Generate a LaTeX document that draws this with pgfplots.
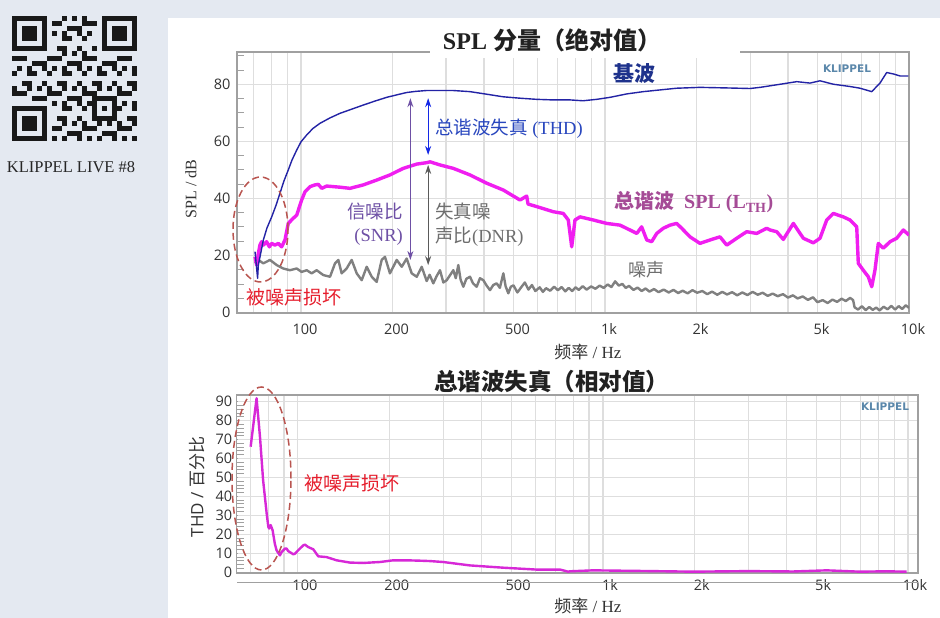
\documentclass[border=0pt]{standalone}
\usepackage{pgfplots}
\pgfplotsset{compat=1.18}
\usetikzlibrary{arrows.meta}
\usepackage{fontspec}
\setmainfont{Liberation Serif}
\newfontfamily\cjk{Noto Sans CJK SC}
\newfontfamily\osans{Open Sans}
\newfontfamily\dejavu{DejaVu Sans}
\definecolor{bgpanel}{RGB}{228,233,241}
\definecolor{gridc}{RGB}{222,222,222}
\definecolor{axisc}{RGB}{160,160,160}
\definecolor{tickc}{RGB}{51,51,51}
\definecolor{fundc}{RGB}{30,50,140}
\definecolor{fundline}{RGB}{35,35,165}
\definecolor{thdc}{RGB}{40,70,190}
\definecolor{thdarrow}{RGB}{20,40,230}
\definecolor{snrc}{RGB}{110,80,165}
\definecolor{dnrc}{RGB}{110,110,110}
\definecolor{dnrarrow}{RGB}{90,90,90}
\definecolor{lthc}{RGB}{165,75,150}
\definecolor{magtop}{RGB}{240,30,240}
\definecolor{magbot}{RGB}{215,40,215}
\definecolor{noisec}{RGB}{128,128,128}
\definecolor{redc}{RGB}{230,30,45}
\definecolor{ellc}{RGB}{185,85,80}
\definecolor{klipc}{RGB}{90,135,170}
\pgfplotsset{
  klaxis/.style={
    scale only axis, anchor=south west,
    xtick={100,200,500,1000,2000,5000,10000},
    xticklabels={100,200,500,1k,2k,5k,10k},
    minor xtick={70,80,90,300,400,600,700,800,900,3000,4000,6000,7000,8000,9000},
    xmajorgrids, xminorgrids, ymajorgrids,
    major grid style={draw=gridc, line width=1.1pt},
    minor grid style={draw=gridc, line width=1.1pt},
    axis line style={draw=axisc, line width=1.1pt},
    tick pos=left, tick align=inside,
    major tick length=0.1pt, minor tick length=7pt,
    every tick/.style={draw=axisc, line width=0.8pt},
    minor x tick style={draw=none},
    /pgf/number format/assume math mode=true,
    tick label style={font=\osans\fontsize{14.5}{15}\selectfont, text=tickc},
  }
}
\begin{document}
\begin{tikzpicture}
\begin{scope}[x=1pt,y=1pt]
\path[use as bounding box] (0,0) rectangle (940,618);
\fill[bgpanel] (0,0) rectangle (940,618);
\fill[white] (168,0) rectangle (940,600);
% QR-like decoration
\foreach \i in {0,...,24}{\foreach \j in {0,...,24}{
  \pgfmathtruncatemacro{\v}{mod(\i*\i*7+\j*\j*3+\i*\j*5+\i*3+\j*11,7)}
  \pgfmathtruncatemacro{\inf}{(((\i<8)&&(\j<8)) || ((\i>16)&&(\j<8)) || ((\i<8)&&(\j>16)) || ((\i>15)&&(\i<21)&&(\j>15)&&(\j<21))) ? 1 : 0}
  \ifnum\inf=0 \ifnum\v<3 \fill[black!90] (12+5*\i, 602-5*\j) rectangle ++(5,-5); \fi\fi
}}
\foreach \fx/\fy in {12/602, 102/602, 12/512}{
  \fill[black!90] (\fx,\fy) rectangle ++(35,-35);
  \fill[bgpanel] (\fx+5,\fy-5) rectangle ++(25,-25);
  \fill[black!90] (\fx+10,\fy-10) rectangle ++(15,-15);
}
\fill[black!90] (92,522) rectangle ++(25,-25);
\fill[bgpanel] (97,517) rectangle ++(15,-15);
\fill[black!90] (102,512) rectangle ++(5,-5);
\node[font=\fontsize{16.5}{17}\selectfont, text=black!85] at (71,451) {KLIPPEL LIVE \#8};
\end{scope}

% ---------------- top axis ----------------
\begin{axis}[xmode=log, klaxis,
  at={(237pt,305pt)}, width=672pt, height=261pt,
  xmin=61.6, xmax=10000, ymin=-0.2, ymax=91.3,
  ytick={0,20,40,60,80},
  minor ytick={5,10,15,25,30,35,45,50,55,65,70,75,85,90},
  xticklabel style={yshift=-7pt, xshift=4pt},
  yticklabel style={xshift=-3pt},
]
\addplot[draw=noisec, line width=2.4pt, no marks, line join=round] coordinates {
(70.6,17.2)(72.4,18.4)(75.2,17.2)(79.1,18.4)(83.2,16.6)(87.4,15.4)(92.0,14.8)(96.8,15.4)
(100.5,14.2)(104.4,14.8)(108.4,13.7)(112.6,14.8)(118.4,13.1)(124.6,12.5)(129.4,17.2)(132.7,18.4)
(136.1,13.7)(141.3,15.4)(146.8,18.4)(152.5,13.7)(158.4,11.3)(164.5,16.0)(170.9,12.5)(177.4,10.7)
(184.3,18.4)(188.9,19.5)(196.2,13.7)(206.5,18.4)(214.5,16.0)(222.7,18.9)(231.3,13.7)(240.3,12.5)
(249.5,16.0)(259.1,11.0)(265,13.2)(272.4,10.2)(279,12.6)(286.6,14.8)(294,10.5)(301.6,11.3)(309,13.0)(317.0,14.8)(323,12.0)(329.2,16.6)(335,11.5)(342.0,9.0)
(350,11.8)(359.7,12.5)(368,10.2)(378.4,9.0)(388,12.0)(397.9,11.3)(408,9.4)(418.5,7.8)(429,9.6)(440.3,10.2)(451,8.6)(463.0,13.7)(471,9.2)(480.8,6.7)(490,9.0)(500,9.5)
(515,7.0)(530,8.8)(545,10.5)(560,8.0)(575,9.6)(590,7.5)(610,8.8)(625,7.2)(640,8.5)(660,7.6)
(680,9.0)(700,7.8)(720,8.9)(740,7.4)(760,8.6)(780,7.5)(800,8.8)(820,7.9)(845,9.2)(870,8.0)
(900,9.1)(930,8.3)(960,9.4)(990,8.6)(1020,9.8)(1050,8.9)(1080,10.9)(1110,9.4)(1140,10.0)(1170,8.6)
(1200,9.3)(1240,7.9)(1280,8.7)(1320,7.5)(1360,8.4)(1400,7.3)(1450,8.2)(1500,7.1)(1560,8.0)(1620,7.0)
(1680,7.9)(1740,6.8)(1800,7.6)(1870,6.7)(1940,7.8)(2010,6.9)(2090,7.5)(2170,6.4)(2250,7.3)(2340,6.2)
(2430,7.2)(2520,6.3)(2620,7.1)(2720,6.0)(2830,7.0)(2940,6.1)(3060,7.2)(3180,6.2)(3300,6.9)(3430,5.8)
(3560,6.6)(3700,5.7)(3850,6.4)(4000,5.2)(4150,6.0)(4300,4.9)(4470,5.6)(4650,4.4)(4830,5.3)(5000,3.6)
(5200,4.3)(5400,3.3)(5600,4.5)(5800,3.7)(6000,4.8)(6200,4.0)(6400,5.1)(6550,4.3)(6620,1.8)(6800,1.0)
(7000,2.2)(7200,0.8)(7400,1.9)(7600,0.9)(7800,1.7)(8000,0.7)(8250,2.0)(8500,1.1)(8750,2.3)(9000,1.0)
(9250,2.2)(9500,1.2)(9750,2.5)(10000,1.6)
};
\addplot[draw=magtop, line width=3.4pt, no marks, line join=round] coordinates {
(70.6,19.5)(71.5,16.6)(72.4,20.7)(73.3,23.6)(74.2,24.8)(75.2,23.6)(77.1,24.8)(78.7,23.0)
(80.1,24.2)(82.1,23.6)(84.2,24.2)(86.4,23.0)(88.6,25.4)(90.8,31.2)(94.3,33.0)(96.8,34.1)
(100.5,39.4)(103.1,42.3)(107.1,44.1)(111.2,44.7)(114.0,44.9)(117.0,43.5)(121.5,44.3)(127.7,44.1)
(134.4,43.9)(144.9,43.5)(160.3,44.7)(177.4,46.4)(196.2,48.2)(217.0,50.5)(240.3,52.0)(259.1,52.5)
(265.7,52.8)(286.6,51.7)(317.0,50.5)(359.7,48.2)(408.2,45.3)(463.0,42.9)(525.4,39.4)(552.7,40.8)
(558.2,38.0)(596.2,37.1)(676.0,35.3)(729.3,34.7)(757.4,32.4)(777.2,23.0)(796.8,32.4)(827.6,33.5)
(915.3,32.4)(1013,31.2)(1120,30.6)(1208,28.9)(1272,27.7)(1320,30.0)(1372,25.4)(1424,24.8)
(1480,27.7)(1555,29.5)(1636,30.6)(1721,31.2)(1788,29.5)(1904,26.5)(2053,24.2)(2215,25.4)
(2389,26.5)(2514,23.6)(2712,26.0)(2924,28.3)(3155,27.7)(3403,29.5)(3490,28.9)(3672,28.3)
(3860,25.6)(4164,31.2)(4491,26.0)(4844,24.4)(5096,26.0)(5362,32.4)(5636,34.7)(6080,33.5)
(6395,32.4)(6730,30.0)(6811,17.2)(7074,14.8)(7347,12.5)(7541,9.0)(7728,14.8)(7925,24.2)
(8231,22.5)(8660,24.8)(9109,26.0)(9577,28.9)(10000,27.1)
};
\addplot[draw=fundline, line width=1.4pt, no marks, line join=round] coordinates {
(70.6,21.3)(72.0,12.0)(72.4,16.6)(75.2,25.4)(77.3,29.6)(80.1,33.5)(82.8,37.6)(85.3,41.8)(87.9,46.1)
(90.8,49.9)(93.4,53.4)(96.8,56.9)(100,59.8)(104.4,62.2)(109.5,64.5)(115.5,66.3)(124.6,68.2)
(134.4,69.8)(147.2,71.3)(160.3,72.7)(175.2,74.1)(191.4,75.4)(205.3,76.2)(222.7,77.1)(239.0,77.5)
(259.1,77.8)(279.5,77.8)(316,77.8)(359.7,77.4)(408.2,76.5)(461.8,75.6)(525.4,75.1)(596.2,74.7)
(674.5,74.5)(767.2,74.5)(846.5,74.2)(939.0,74.7)(1038.5,75.4)(1179,76.6)(1336.6,77.4)(1517,78.0)
(1721,78.6)(2053,78.9)(2513,78.7)(2999,78.5)(3236,78.9)(3672,79.8)(4272,80.9)(4724,80.4)
(5096,81.2)(5636,80.0)(6395,79.2)(6901,78.6)(7541,77.4)(8026,80.4)(8444,84.1)(8880,83.6)
(9341,82.9)(9947,82.9)
};
\draw[{Stealth[length=9pt,width=6pt]}-{Stealth[length=9pt,width=6pt]}, draw=snrc, fill=snrc, line width=1.3pt] (axis cs:229,75.1) -- (axis cs:229,18.4);
\draw[{Stealth[length=9pt,width=6pt]}-{Stealth[length=9pt,width=6pt]}, draw=thdarrow, fill=thdarrow, line width=1.3pt] (axis cs:262,75.1) -- (axis cs:262,55.2);
\draw[{Stealth[length=9pt,width=6pt]}-{Stealth[length=9pt,width=6pt]}, draw=dnrarrow, fill=dnrarrow, line width=1.3pt] (axis cs:262,51.7) -- (axis cs:262,16.6);
\end{axis}

% ---------------- bottom axis ----------------
\begin{axis}[xmode=log, klaxis,
  at={(236.7pt,45pt)}, width=681.3pt, height=178pt,
  xmin=63, xmax=10785, ymin=-0.5, ymax=93.5,
  ytick={0,10,20,30,40,50,60,70,80,90},
  minor y tick num=4,
  xticklabel style={xshift=7pt, yshift=-3pt},
  yticklabel style={xshift=-1pt},
]
\addplot[draw=magbot, line width=2.4pt, no marks, line join=round] coordinates {
(70.0,66.2)(73.2,91.8)(75.1,71.5)(76.9,48.5)(79.0,30.9)(80.0,23.8)(80.5,23.0)(81.4,24.8)
(82.6,22.1)(84.0,15.0)(85.1,11.5)(87.3,8.8)(88.4,10.6)(90.7,12.4)(91.8,12.4)(92.9,11.1)
(96.5,9.4)(97.8,9.7)(100.2,11.5)(104.1,14.1)(105.4,14.5)(108.1,13.2)(112.3,12.0)(116.6,8.3)
(124.2,7.9)(133.9,6.2)(148.1,5.0)(163.7,4.8)(185.8,5.3)(205.4,6.2)(227.2,6.2)(251,6.0)
(270.9,5.8)(299.5,5.3)(366.4,3.5)(471.1,2.3)(606.0,1.3)(722.8,1.3)(769.4,0.2)(779.6,0.4)
(929.4,0.9)(1300,0.6)(1978,0.2)(3000,0.5)(4200,0.3)(5413,0.9)(6959,0.2)(8500,0.4)(9901,0.2)
};
\end{axis}

\begin{scope}[x=1pt,y=1pt]
\fill[white] (430,560) rectangle (740,572);
\draw[axisc, line width=1.1pt] (237,35.3) -- (918,35.3);
\node[font=\bfseries\fontsize{24}{25}\selectfont, text=black!87] at (552,578) {SPL {\cjk\bfseries 分量（绝对值）}};
\node[font=\cjk\bfseries\fontsize{23.5}{24}\selectfont, text=black!87] at (551.5,236) {总谐波失真（相对值）};
\node[rotate=90, font=\fontsize{16}{16}\selectfont, text=tickc] at (191,429) {SPL / dB};
\node[font=\fontsize{17}{17}\selectfont, text=tickc] at (588,266) {{\cjk 频率} / Hz};
\node[font=\fontsize{17}{17}\selectfont, text=tickc] at (588,12) {{\cjk 频率} / Hz};
\node[rotate=90, font=\fontsize{17}{17}\selectfont, text=tickc] at (197,131) {{\osans THD /} {\cjk 百分比}};

\node[font=\cjk\bfseries\fontsize{21}{21}\selectfont, text=fundc] at (634,544) {基波};
\node[anchor=west, inner sep=0pt, font=\fontsize{18.5}{19}\selectfont, text=thdc] at (435,489) {{\cjk 总谐波失真} (THD)};
\node[anchor=east, inner sep=0pt, font=\cjk\fontsize{18.5}{19}\selectfont, text=snrc] at (403,406) {信噪比};
\node[anchor=east, inner sep=0pt, font=\fontsize{18.5}{19}\selectfont, text=snrc] at (403,381) {(SNR)};
\node[anchor=west, inner sep=0pt, font=\cjk\fontsize{18.5}{19}\selectfont, text=dnrc] at (435,407) {失真噪};
\node[anchor=west, inner sep=0pt, font=\fontsize{18.5}{19}\selectfont, text=dnrc] at (435,381) {{\cjk 声比}(DNR)};
\node[anchor=west, inner sep=0pt, font=\bfseries\fontsize{20}{20}\selectfont, text=lthc] at (614,415.5) {{\cjk\bfseries 总谐波}\ \ SPL (L\textsubscript{TH})};
\node[anchor=west, inner sep=0pt, font=\cjk\fontsize{18}{18}\selectfont, text=dnrc] at (628,348) {噪声};
\node[anchor=west, inner sep=0pt, font=\cjk\fontsize{19}{19}\selectfont, text=redc] at (246,320.5) {被噪声损坏};
\node[anchor=west, inner sep=0pt, font=\cjk\fontsize{19}{19}\selectfont, text=redc] at (304,135) {被噪声损坏};
\node[font=\dejavu\bfseries\fontsize{10.5}{11}\selectfont, text=klipc] at (847,549) {KLIPPEL};
\node[font=\dejavu\bfseries\fontsize{10.5}{11}\selectfont, text=klipc] at (885,211.3) {KLIPPEL};
\draw[ellc, line width=1.5pt, dash pattern=on 7pt off 4pt] (260.5,388.5) ellipse [x radius=27.5, y radius=52.5];
\draw[ellc, line width=1.5pt, dash pattern=on 7pt off 4pt] (261.5,139.5) ellipse [x radius=29.5, y radius=91.5];
\end{scope}
\end{tikzpicture}
\end{document}
